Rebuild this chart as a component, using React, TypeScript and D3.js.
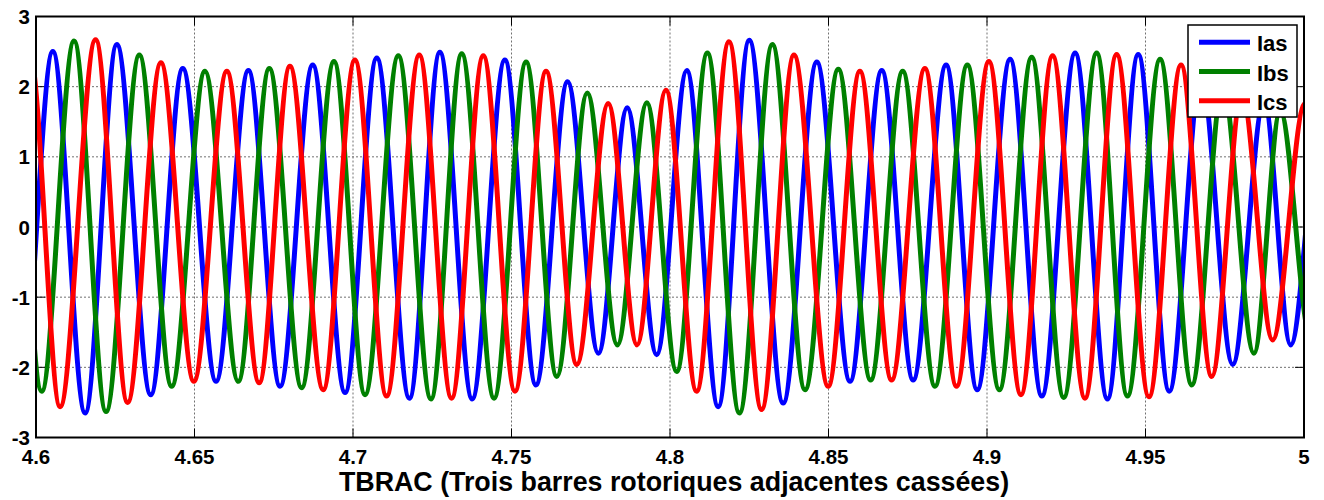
import React from 'react';
import * as d3 from 'd3';

// ---- axis ticks ----
const xTicks = [4.6, 4.65, 4.7, 4.75, 4.8, 4.85, 4.9, 4.95, 5];
const xTickLabels = ['4.6', '4.65', '4.7', '4.75', '4.8', '4.85', '4.9', '4.95', '5'];
const yTicks = [-3, -2, -1, 0, 1, 2, 3];
const yTickLabels = ['-3', '-2', '-1', '0', '1', '2', '3'];
const xTitle = 'TBRAC (Trois barres rotoriques adjacentes cassées)';

const seriesNames = ['Ias', 'Ibs', 'Ics'];
const seriesColors = ['#0000ff', '#008000', '#ff0000'];

// ---- Ias: extrema (time, value) (first/last two lie outside the axes) ----
const iasT = [4.5852, 4.5952, 4.6053, 4.6155, 4.6255, 4.6362, 4.6463, 4.6568, 4.667, 4.677, 4.6873, 4.6975, 4.7075, 4.7178, 4.7274, 4.7376, 4.7479, 4.7577, 4.7677, 4.7774, 4.7865, 4.7958, 4.8053, 4.8152, 4.825, 4.8357, 4.8463, 4.8568, 4.8668, 4.8767, 4.8871, 4.8969, 4.9073, 4.9173, 4.9278, 4.938, 4.9477, 4.9575, 4.9675, 4.9775, 4.9874, 4.9958, 5.0055, 5.0155];
const iasV = [2.4, -2.45, 2.5, -2.65, 2.6, -2.39, 2.26, -2.2, 2.23, -2.27, 2.31, -2.36, 2.41, -2.44, 2.49, -2.45, 2.38, -2.25, 2.07, -1.8, 1.7, -1.82, 2.23, -2.56, 2.66, -2.51, 2.35, -2.2, 2.23, -2.18, 2.31, -2.32, 2.39, -2.41, 2.48, -2.45, 2.46, -2.34, 2.15, -1.96, 1.8, -1.68, 1.65, -1.6];

// ---- Ibs ----
const ibsT = [4.5818, 4.5918, 4.6018, 4.612, 4.6221, 4.6326, 4.6428, 4.6533, 4.6638, 4.6736, 4.6838, 4.694, 4.7038, 4.7143, 4.7246, 4.7343, 4.7445, 4.7546, 4.7643, 4.7739, 4.7834, 4.7927, 4.8021, 4.8118, 4.8219, 4.8323, 4.8426, 4.8531, 4.8633, 4.8734, 4.8836, 4.8938, 4.9039, 4.9141, 4.9242, 4.9346, 4.9443, 4.9546, 4.9646, 4.9744, 4.9842, 4.9925, 5.0022, 5.012];
const ibsV = [-2.4, 2.45, -2.34, 2.65, -2.63, 2.45, -2.27, 2.22, -2.2, 2.26, -2.29, 2.36, -2.39, 2.44, -2.45, 2.47, -2.44, 2.35, -2.13, 1.91, -1.68, 1.77, -2.06, 2.48, -2.65, 2.6, -2.32, 2.25, -2.18, 2.22, -2.27, 2.31, -2.32, 2.42, -2.43, 2.48, -2.41, 2.39, -2.25, 2.0, -1.8, 1.65, -1.6, 1.6];

// ---- Ics ----
const icsT = [4.5881, 4.5981, 4.6076, 4.6188, 4.6289, 4.6394, 4.6498, 4.6602, 4.6704, 4.6801, 4.6906, 4.7006, 4.7106, 4.7209, 4.7311, 4.7411, 4.7511, 4.7609, 4.7706, 4.7805, 4.7896, 4.7987, 4.8084, 4.8186, 4.8289, 4.8391, 4.8499, 4.8599, 4.8699, 4.8804, 4.8904, 4.9006, 4.9107, 4.9207, 4.9309, 4.9409, 4.9511, 4.9612, 4.9709, 4.9804, 4.9901, 5.0003, 5.01, 5.0198];
const icsV = [-2.4, 2.45, -2.56, 2.67, -2.5, 2.34, -2.2, 2.22, -2.22, 2.29, -2.32, 2.38, -2.41, 2.45, -2.44, 2.44, -2.34, 2.22, -1.96, 1.76, -1.68, 1.95, -2.34, 2.64, -2.6, 2.45, -2.27, 2.22, -2.18, 2.26, -2.27, 2.36, -2.39, 2.44, -2.44, 2.46, -2.42, 2.31, -2.13, 1.9, -1.61, 1.76, -1.6, 1.6];

const seriesT = [iasT, ibsT, icsT];
const seriesV = [iasV, ibsV, icsV];

const W = 1324;
const H = 500;
const L = 36;
const R = 1304;
const T = 16.5;
const B = 437.5;
const FONT = '"Liberation Sans", Arial, Helvetica, sans-serif';

export default function App() {
  const x = d3.scaleLinear().domain([4.6, 5]).range([L, R]);
  const y = d3.scaleLinear().domain([-3, 3]).range([B, T]);
  const line = d3
    .line<[number, number]>()
    .x((d) => x(d[0]))
    .y((d) => y(d[1]))
    .curve(d3.curveMonotoneX);

  const paths = seriesT.map((ts, i) =>
    line(ts.map((t, k) => [t, seriesV[i][k]] as [number, number])) || ''
  );

  const tickLen = 9;
  const legX = 1188;
  const legY = 25;
  const legW = 109;
  const legH = 92;
  const legRow = 29.2;

  return (
    <svg
      width={W}
      height={H}
      viewBox={`0 0 ${W} ${H}`}
      style={{ position: 'absolute', left: 0, top: 0, background: '#fff' }}
      fontFamily={FONT}
    >
      <rect x={0} y={0} width={W} height={H} fill="#fff" />
      <defs>
        <clipPath id="plotClip">
          <rect x={L} y={T} width={R - L} height={B - T} />
        </clipPath>
      </defs>

      {/* grid */}
      <g stroke="#707070" strokeWidth={1} strokeDasharray="2,2" fill="none">
        {xTicks.slice(1, -1).map((v) => (
          <line key={'gx' + v} x1={x(v)} x2={x(v)} y1={T} y2={B} />
        ))}
        {yTicks.slice(1, -1).map((v) => (
          <line key={'gy' + v} x1={L} x2={R} y1={y(v)} y2={y(v)} />
        ))}
      </g>

      {/* ticks */}
      <g stroke="#000" strokeWidth={1}>
        {xTicks.map((v) => (
          <g key={'tx' + v}>
            <line x1={x(v)} x2={x(v)} y1={B} y2={B - tickLen} />
            <line x1={x(v)} x2={x(v)} y1={T} y2={T + tickLen} />
          </g>
        ))}
        {yTicks.map((v) => (
          <g key={'ty' + v}>
            <line x1={L} x2={L + tickLen} y1={y(v)} y2={y(v)} />
            <line x1={R} x2={R - tickLen} y1={y(v)} y2={y(v)} />
          </g>
        ))}
      </g>

      {/* series */}
      <g clipPath="url(#plotClip)" fill="none" strokeLinejoin="round" strokeLinecap="round">
        {paths.map((p, i) => (
          <path key={seriesNames[i]} d={p} stroke={seriesColors[i]} strokeWidth={5} />
        ))}
      </g>

      {/* axis box */}
      <rect x={L} y={T} width={R - L} height={B - T} fill="none" stroke="#000" strokeWidth={2} />

      {/* tick labels */}
      <g fontWeight="bold" fontSize={20.5} fill="#000">
        {xTicks.map((v, i) => (
          <text key={'lx' + v} x={x(v)} y={464} textAnchor="middle">
            {xTickLabels[i]}
          </text>
        ))}
        {yTicks.map((v, i) => (
          <text key={'ly' + v} x={30} y={y(v) + 7.5} textAnchor="end">
            {yTickLabels[i]}
          </text>
        ))}
      </g>

      {/* x title */}
      <text x={674} y={491} textAnchor="middle" fontWeight="bold" fontSize={26.8} fill="#000">
        {xTitle}
      </text>

      {/* legend */}
      <g>
        <rect x={legX} y={legY} width={legW} height={legH} fill="#fff" stroke="#000" strokeWidth={1.5} />
        {seriesNames.map((n, i) => {
          const cy = 42.3 + i * legRow;
          return (
            <g key={'leg' + n}>
              <line x1={1199} x2={1250} y1={cy} y2={cy} stroke={seriesColors[i]} strokeWidth={5} />
              <text x={1257} y={cy + 9} fontWeight="bold" fontSize={22} fill="#000">
                {n}
              </text>
            </g>
          );
        })}
      </g>
    </svg>
  );
}
